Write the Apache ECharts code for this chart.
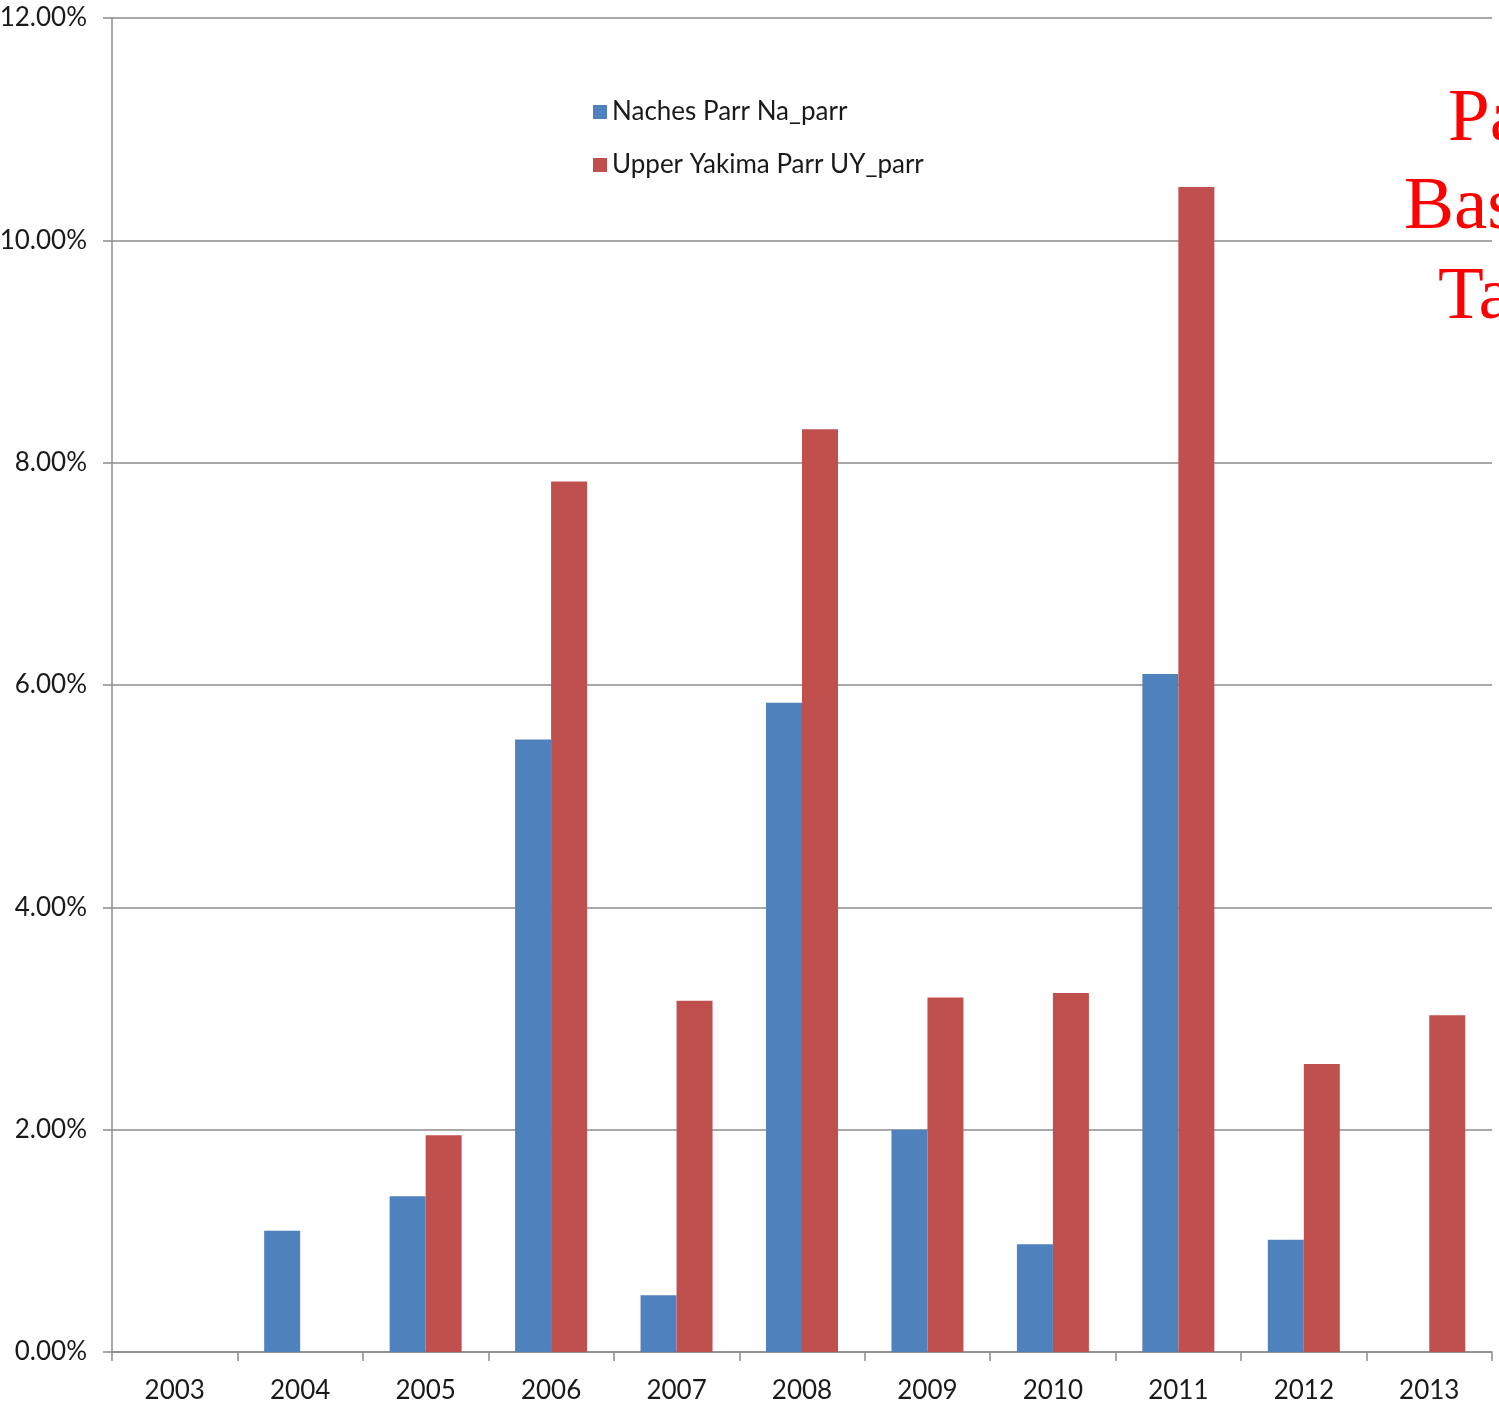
<!DOCTYPE html>
<html><head><meta charset="utf-8">
<script src="https://cdn.jsdelivr.net/npm/echarts@6/dist/echarts.min.js"></script>
<style>html,body{margin:0;padding:0;background:#fff;}#c{width:1499px;height:1411px;}</style>
</head><body><div id="c"></div>
<script>
const years = ['2003','2004','2005','2006','2007','2008','2009','2010','2011','2012','2013'];
const nachesParr = [0, 1.09, 1.40, 5.51, 0.51, 5.84, 2.00, 0.97, 6.10, 1.01, 0];
const upperYakimaParr = [0, 0, 1.95, 7.83, 3.16, 8.30, 3.19, 3.23, 10.48, 2.59, 3.03];
const seriesNames = ['Naches Parr Na_parr', 'Upper Yakima Parr UY_parr'];
const sideText = ['Pa', 'Bas', 'Ta'];

const chart = echarts.init(document.getElementById('c'));
const labelFont = 'Lato, "Open Sans", sans-serif';
chart.setOption({
  animation: false,
  backgroundColor: '#fff',
  grid: {left: 112, right: 7, top: 18, bottom: 59, containLabel: false, outerBoundsMode: 'none'},
  legend: {
    orient: 'vertical', left: 588, top: 94, icon: 'rect',
    itemWidth: 14, itemHeight: 14, itemGap: 27,
    textStyle: {fontSize: 26, color: '#1a1a1a', fontFamily: labelFont},
    data: seriesNames
  },
  xAxis: {
    type: 'category', data: years, boundaryGap: true,
    axisLine: {lineStyle: {color: '#8c8c8c', width: 1.5}},
    axisTick: {show: true, length: 9, lineStyle: {color: '#8c8c8c', width: 1.5}},
    axisLabel: {fontSize: 26, color: '#1a1a1a', fontFamily: labelFont, margin: 26},
    splitLine: {show: false}
  },
  yAxis: {
    type: 'value', min: 0, max: 12, interval: 2,
    axisLine: {show: true, lineStyle: {color: '#8c8c8c', width: 1.5}},
    axisTick: {show: true, length: 9, lineStyle: {color: '#8c8c8c', width: 1.5}},
    axisLabel: {fontSize: 26, color: '#1a1a1a', fontFamily: labelFont, margin: 25,
      formatter: v => v.toFixed(2) + '%'},
    splitLine: {lineStyle: {color: '#8c8c8c', width: 1.5}}
  },
  series: [
    {name: seriesNames[0], type: 'bar', data: nachesParr, barWidth: 36, barGap: '0%',
     itemStyle: {color: '#4F81BD'}},
    {name: seriesNames[1], type: 'bar', data: upperYakimaParr, barWidth: 36, barGap: '0%',
     itemStyle: {color: '#C0504D'}}
  ],
  graphic: [
    {type: 'text', left: 1448, top: 83, silent: true,
     style: {text: sideText[0], fontSize: 75, fontFamily: '"Liberation Serif", "DejaVu Serif", serif', fill: '#ff0000'}},
    {type: 'text', left: 1404, top: 171, silent: true,
     style: {text: sideText[1], fontSize: 75, fontFamily: '"Liberation Serif", "DejaVu Serif", serif', fill: '#ff0000'}},
    {type: 'text', left: 1438, top: 261, silent: true,
     style: {text: sideText[2], fontSize: 75, fontFamily: '"Liberation Serif", "DejaVu Serif", serif', fill: '#ff0000'}}
  ]
});
</script></body></html>
